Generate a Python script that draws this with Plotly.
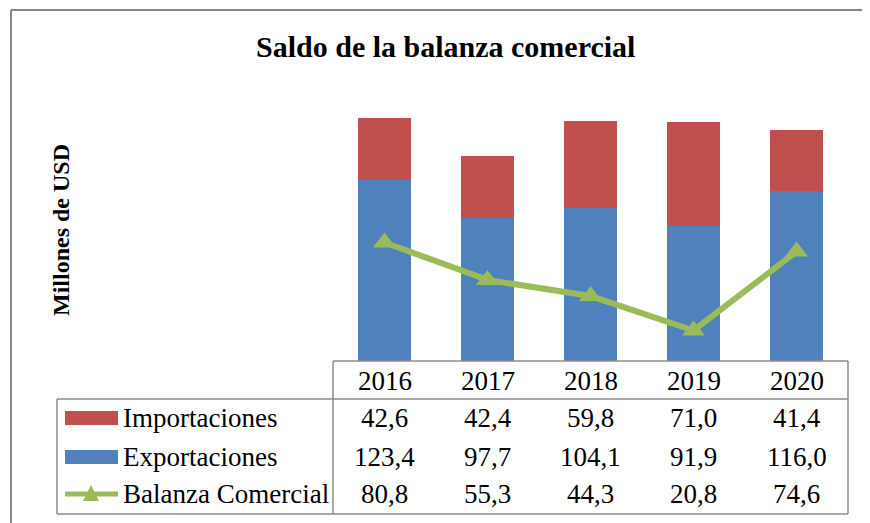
import plotly.graph_objects as go

years = ["2016", "2017", "2018", "2019", "2020"]
importaciones = [42.6, 42.4, 59.8, 71.0, 41.4]
exportaciones = [123.4, 97.7, 104.1, 91.9, 116.0]
balanza = [80.8, 55.3, 44.3, 20.8, 74.6]
series_names = ["Importaciones", "Exportaciones", "Balanza Comercial"]
title_text = "Saldo de la balanza comercial"
y_title = "Millones de USD"

RED = "#C0504D"
BLUE = "#4F81BD"
GREEN = "#9BBB59"
GRID = "#8C8C8C"
FONT = "Liberation Serif"

OFF = 8  # page body margin offset
W, H = 870 - OFF, 523 - OFF
L, T = 333 - OFF, 97 - OFF
plot_w, plot_h = 515, 264
R = W - L - plot_w
B = H - T - plot_h


def px(x):
    return (x - OFF - L) / plot_w


def py(y):
    return (T + plot_h - (y - OFF)) / plot_h


def fmt(v):
    return f"{v:.1f}".replace(".", ",")


fig = go.Figure()
fig.add_trace(go.Bar(x=years, y=exportaciones, name=series_names[1],
                     marker=dict(color=BLUE, line=dict(width=0))))
fig.add_trace(go.Bar(x=years, y=importaciones, name=series_names[0],
                     marker=dict(color=RED, line=dict(width=0))))
fig.add_trace(go.Scatter(x=years, y=balanza, name=series_names[2], mode="lines+markers",
                         line=dict(color=GREEN, width=6),
                         marker=dict(symbol="triangle-up", size=20, color=GREEN)))

shapes = []
line = dict(color=GRID, width=1.5)
# outer chart border (top and left)
shapes.append(dict(type="line", xref="paper", yref="paper", x0=px(11), x1=px(900),
                   y0=py(10), y1=py(10), line=dict(color="#888888", width=2)))
shapes.append(dict(type="line", xref="paper", yref="paper", x0=px(11), x1=px(11),
                   y0=py(10), y1=py(560), line=dict(color="#888888", width=2)))
# data table lines
shapes.append(dict(type="line", xref="paper", yref="paper", x0=px(333), x1=px(848),
                   y0=py(361), y1=py(361), line=line))
shapes.append(dict(type="line", xref="paper", yref="paper", x0=px(57), x1=px(848),
                   y0=py(399), y1=py(399), line=line))
shapes.append(dict(type="line", xref="paper", yref="paper", x0=px(57), x1=px(848),
                   y0=py(514), y1=py(514), line=line))
shapes.append(dict(type="line", xref="paper", yref="paper", x0=px(57), x1=px(57),
                   y0=py(399), y1=py(514), line=line))
shapes.append(dict(type="line", xref="paper", yref="paper", x0=px(333), x1=px(333),
                   y0=py(361), y1=py(514), line=line))
shapes.append(dict(type="line", xref="paper", yref="paper", x0=px(848), x1=px(848),
                   y0=py(361), y1=py(514), line=line))
# legend keys
shapes.append(dict(type="rect", xref="paper", yref="paper", x0=px(65), x1=px(118),
                   y0=py(411), y1=py(425), fillcolor=RED, line=dict(width=0)))
shapes.append(dict(type="rect", xref="paper", yref="paper", x0=px(65), x1=px(118),
                   y0=py(450), y1=py(464), fillcolor=BLUE, line=dict(width=0)))
shapes.append(dict(type="line", xref="paper", yref="paper", x0=px(65), x1=px(118),
                   y0=py(494), y1=py(494), line=dict(color=GREEN, width=5)))
shapes.append(dict(type="path", xref="paper", yref="paper",
                   path=f"M {px(83)} {py(501)} L {px(99)} {py(501)} L {px(91)} {py(485)} Z",
                   fillcolor=GREEN, line=dict(width=0)))

ann = []
ann.append(dict(text=f"<b>{title_text}</b>", xref="paper", yref="paper", x=px(445), y=py(47),
                showarrow=False, font=dict(family=FONT, size=30, color="black"),
                xanchor="center", yanchor="middle"))
ann.append(dict(text=f"<b>{y_title}</b>", xref="paper", yref="paper", x=px(61), y=py(230),
                showarrow=False, textangle=-90, font=dict(family=FONT, size=24, color="black"),
                xanchor="center", yanchor="middle"))
tfont = dict(family=FONT, size=27, color="black")
row_y = [418, 457, 494]
row_vals = [importaciones, exportaciones, balanza]
for i, yr in enumerate(years):
    ann.append(dict(text=yr, xref="x", yref="paper", x=i, y=py(381), showarrow=False,
                    font=tfont, xanchor="center", yanchor="middle"))
for name, vals, ry in zip(series_names, row_vals, row_y):
    ann.append(dict(text=name, xref="paper", yref="paper", x=px(121), y=py(ry), showarrow=False,
                    font=tfont, xanchor="left", yanchor="middle"))
    for i, v in enumerate(vals):
        ann.append(dict(text=fmt(v), xref="x", yref="paper", x=i, y=py(ry), showarrow=False,
                        font=tfont, xanchor="center", yanchor="middle"))

fig.update_layout(
    width=W, height=H,
    margin=dict(l=L, r=R, t=T, b=B, pad=0),
    barmode="stack", bargap=0.48,
    showlegend=False,
    plot_bgcolor="white", paper_bgcolor="white",
    xaxis=dict(type="category", range=[-0.5, 4.5], showticklabels=False, showgrid=False,
               zeroline=False, showline=False, ticks=""),
    yaxis=dict(range=[0, 180], showticklabels=False, showgrid=False, zeroline=False,
               showline=False, ticks=""),
    shapes=shapes, annotations=ann,
)

fig.write_html("out.html")
